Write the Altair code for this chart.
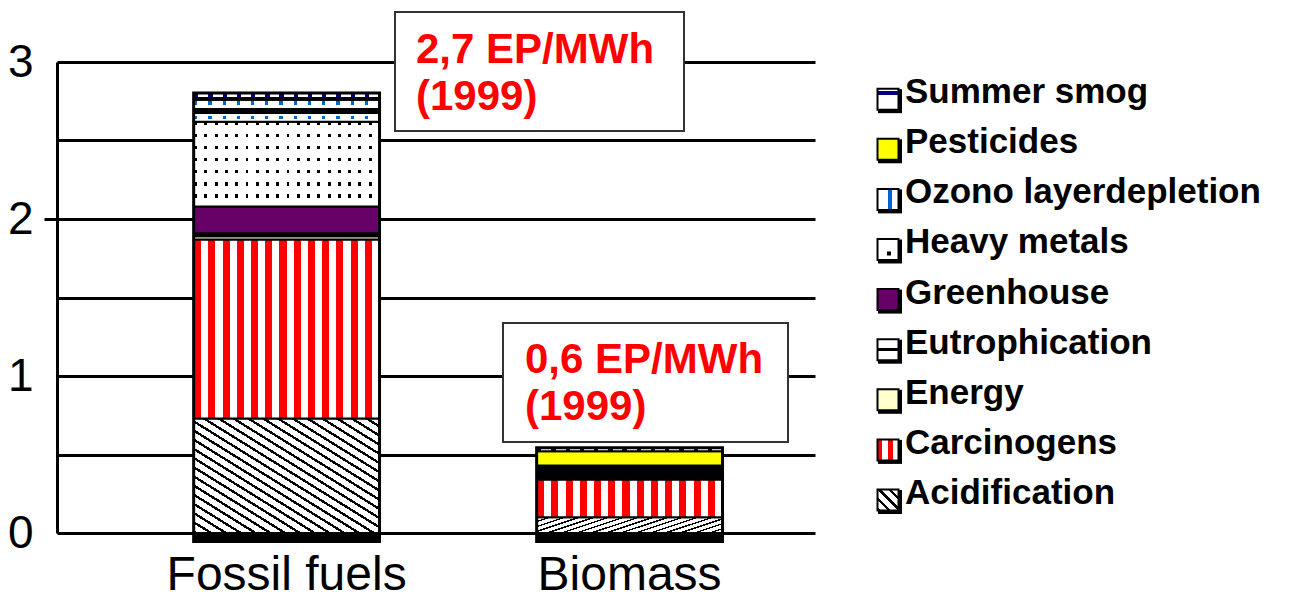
import altair as alt
import pandas as pd

# ---------------- data ----------------
sources = ["Fossil fuels", "Biomass"]
# stacking order, bottom -> top
categories = ["Acidification", "Carcinogens", "Energy", "Eutrophication", "Greenhouse",
              "Heavy metals", "Ozono layerdepletion", "Pesticides", "Summer smog"]
fossil_values = [0.73, 1.14, 0.02, 0.02, 0.17, 0.54, 0.14, 0.01, 0.03]
biomass_values = [0.10, 0.24, 0.00, 0.09, 0.00, 0.00, 0.00, 0.09, 0.02]
legend_order = list(reversed(categories))
annotation_fossil = "2,7 EP/MWh\n(1999)"
annotation_biomass = "0,6 EP/MWh\n(1999)"
y_ticks = [0, 0.5, 1, 1.5, 2, 2.5, 3]

rows = []
for src, vals in zip(sources, [fossil_values, biomass_values]):
    acc = 0.0
    for cat, v in zip(categories, vals):
        rows.append({"source": src, "category": cat, "start": acc, "end": acc + v, "value": v})
        acc += v
df = pd.DataFrame(rows)
df = df[df["value"] > 0]
df_tot = pd.DataFrame({"source": sources, "total": [sum(fossil_values), sum(biomass_values)]})
df_leg = pd.DataFrame({"category": legend_order})
df_ann1 = pd.DataFrame({"label": [annotation_fossil]})
df_ann2 = pd.DataFrame({"label": [annotation_biomass]})

# ---------------- styles ----------------
CLEAR = "rgba(255,255,255,0)"


def stripes(c1, c2, n, frac, x1, y1, x2, y2):
    stops = []
    for i in range(n):
        a = i / n
        b = (i + frac) / n
        c = (i + 1) / n
        stops += [{"offset": a, "color": c1}, {"offset": b, "color": c1},
                  {"offset": b, "color": c2}, {"offset": c, "color": c2}]
    return {"gradient": "linear", "x1": x1, "y1": y1, "x2": x2, "y2": y2, "stops": stops}


def bands(spec, vertical=True):
    stops = []
    for a, b, col in spec:
        stops += [{"offset": a, "color": col}, {"offset": b, "color": col}]
    if vertical:
        return {"gradient": "linear", "x1": 0, "y1": 0, "x2": 0, "y2": 1, "stops": stops}
    return {"gradient": "linear", "x1": 0, "y1": 0, "x2": 1, "y2": 0, "stops": stops}


bar_fill = {
    "Acidification": stripes("black", "white", 25, 0.3, 0, 1, 1, 0),
    "Carcinogens": stripes("#FF0000", "white", 13, 0.5, 0, 0, 1, 0),
    "Energy": "#FFFFCC",
    "Eutrophication": "black",
    "Greenhouse": "#660066",
    "Heavy metals": stripes("black", "white", 18, 0.28, 0, 0, 1, 0),
    "Ozono layerdepletion": stripes("#0066CC", "white", 13, 0.22, 0, 0, 1, 0),
    "Pesticides": "#FFFF00",
    "Summer smog": stripes("#000080", "white", 13, 0.3, 0, 0, 1, 0),
}
bar_mask = {
    "Heavy metals": stripes(CLEAR, "white", 7, 0.28, 0, 0, 0, 1),
    "Ozono layerdepletion": bands([(0, 0.25, CLEAR), (0.25, 0.4, "white"), (0.4, 0.65, "black"),
                                   (0.65, 0.75, "white"), (0.75, 0.9, CLEAR), (0.9, 1, "white")]),
}
legend_fill = {
    "Summer smog": bands([(0, 0.12, "white"), (0.12, 0.3, "#000080"), (0.3, 1, "white")]),
    "Pesticides": "#FFFF00",
    "Ozono layerdepletion": bands([(0, 0.5, "white"), (0.5, 0.68, "#0066CC"), (0.68, 1, "white")], vertical=False),
    "Heavy metals": "white",
    "Greenhouse": "#660066",
    "Eutrophication": bands([(0, 0.4, "white"), (0.4, 0.58, "black"), (0.58, 1, "white")]),
    "Energy": "#FFFFCC",
    "Carcinogens": stripes("#FF0000", "white", 2, 0.45, 0, 0, 1, 0),
    "Acidification": stripes("black", "white", 4, 0.3, 0, 1, 1, 0),
}

FONT = "Liberation Sans"

x_enc = alt.X("source:N", sort=sources, title=None,
              scale=alt.Scale(paddingInner=0.461, paddingOuter=0.3355, align=0.596),
              axis=alt.Axis(domain=False, ticks=False, grid=False, labelAngle=0,
                            labelFont=FONT, labelFontSize=48, labelColor="black",
                            labelPadding=56, labelBaseline="alphabetic", labelLimit=600))
y_scale = alt.Scale(domain=[0, 3], nice=False, zero=True)
y_axis = alt.Axis(values=y_ticks, title=None,
                  labelExpr="datum.value % 1 === 0 ? format(datum.value, 'd') : ''",
                  grid=True, gridColor="black", gridWidth=3,
                  domainColor="black", domainWidth=3,
                  tickSize=13, tickWidth=3,
                  tickColor={"condition": {"test": "datum.value === 2", "value": "black"}, "value": "transparent"},
                  labelFont=FONT, labelFontSize=46, labelColor="black", labelPadding=11)

# frame / shadow behind the bars
frame = alt.Chart(df_tot).mark_bar(color="black", stroke="black", strokeWidth=4, y2Offset=8).encode(
    x=x_enc,
    y=alt.Y("total:Q", scale=y_scale, axis=y_axis),
    y2=alt.datum(0),
)

bar_layers = [frame]
for cat in categories:
    sub = df[df["category"] == cat]
    if sub.empty:
        continue
    base = alt.Chart(sub)
    if cat in bar_mask:
        bar_layers.append(base.mark_bar(fill=bar_fill[cat], strokeWidth=0).encode(
            x=alt.X("source:N", sort=sources), y=alt.Y("start:Q", scale=y_scale), y2="end:Q"))
        bar_layers.append(base.mark_bar(fill=bar_mask[cat], stroke="black", strokeWidth=2).encode(
            x=alt.X("source:N", sort=sources), y=alt.Y("start:Q", scale=y_scale), y2="end:Q"))
    else:
        bar_layers.append(base.mark_bar(fill=bar_fill[cat], stroke="black", strokeWidth=2).encode(
            x=alt.X("source:N", sort=sources), y=alt.Y("start:Q", scale=y_scale), y2="end:Q"))

# annotation boxes
box_style = dict(fill="white", stroke="#333333", strokeWidth=2)
txt_style = dict(align="left", baseline="alphabetic", font=FONT, fontWeight="bold",
                 fontSize=42, color="#FF0000", lineBreak="\n", lineHeight=47)
ann1_box = alt.Chart(df_ann1).mark_rect(**box_style).encode(
    x=alt.value(338), x2=alt.value(627), y=alt.value(-50), y2=alt.value(69))
ann1_txt = alt.Chart(df_ann1).mark_text(**txt_style).encode(
    x=alt.value(359), y=alt.value(1), text="label:N")
ann2_box = alt.Chart(df_ann2).mark_rect(**box_style).encode(
    x=alt.value(446), x2=alt.value(731), y=alt.value(261), y2=alt.value(380))
ann2_txt = alt.Chart(df_ann2).mark_text(**txt_style).encode(
    x=alt.value(468), y=alt.value(311), text="label:N")

bars = alt.layer(*bar_layers, ann1_box, ann1_txt, ann2_box, ann2_txt)

# custom legend
leg_scale = alt.Scale(type="point", domain=legend_order, padding=0.7, align=0.43)
leg_y = alt.Y("category:N", scale=leg_scale, axis=None)
legend_layers = [
    alt.Chart(df_leg).mark_square(color="black", opacity=1, size=576, xOffset=2, yOffset=9).encode(
        x=alt.value(831), y=leg_y)
]
for cat in legend_order:
    legend_layers.append(
        alt.Chart(df_leg).transform_filter(alt.datum.category == cat).mark_square(
            fill=legend_fill[cat], stroke="black", strokeWidth=2, opacity=1, size=441, yOffset=7).encode(
            x=alt.value(831), y=leg_y))
legend_layers.append(
    alt.Chart(df_leg).transform_filter(alt.datum.category == "Heavy metals").mark_square(
        color="black", opacity=1, size=16, yOffset=11, xOffset=1).encode(x=alt.value(831), y=leg_y))
legend_layers.append(
    alt.Chart(df_leg).mark_text(align="left", baseline="middle", font=FONT, fontWeight="bold",
                                fontSize=35, color="black").encode(
        x=alt.value(848), y=leg_y, text="category:N"))
legend = alt.layer(*legend_layers)

chart = alt.layer(bars, legend).resolve_scale(y="independent").properties(
    width=758, height=471,
    autosize=alt.AutoSizeParams(type="none"),
    padding={"left": 49, "top": 54, "right": 472, "bottom": 69},
    background="white",
).configure_view(stroke=None)

chart.save("out.html", embed_options={"renderer": "svg", "actions": False})
